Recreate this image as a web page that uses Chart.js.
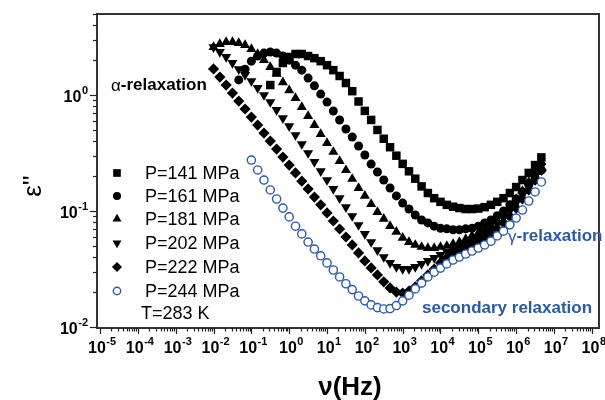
<!DOCTYPE html>
<html>
<head>
<meta charset="utf-8">
<script src="https://cdn.jsdelivr.net/npm/chart.js@4.4.0/dist/chart.umd.min.js"></script>
<style>
  html, body { margin: 0; padding: 0; background: #fff; }
  #wrap { width: 605px; height: 400px; }
</style>
</head>
<body>
<div id="wrap"><canvas id="chart" width="605" height="400"></canvas></div>
<script>
// frequency grid (Hz), 6 points per decade
const freq = [
  0.01, 0.01468, 0.02154, 0.03162, 0.04642, 0.06813,
  0.1, 0.1468, 0.2154, 0.3162, 0.4642, 0.6813,
  1, 1.468, 2.154, 3.162, 4.642, 6.813,
  10, 14.68, 21.54, 31.62, 46.42, 68.13,
  100, 146.8, 215.4, 316.2, 464.2, 681.3,
  1000, 1468, 2154, 3162, 4642, 6813,
  1e4, 1.468e4, 2.154e4, 3.162e4, 4.642e4, 6.813e4,
  1e5, 1.468e5, 2.154e5, 3.162e5, 4.642e5, 6.813e5,
  1e6, 1.468e6, 2.154e6, 3.162e6, 4.642e6
];

// eps'' for each pressure (null = not measured)
const p141 = [
  null, null, null, null, null, null,
  null, null, null, 1.22, 1.58, 1.89,
  2.13, 2.26, 2.26, 2.17, 2.08, 1.96,
  1.81, 1.64, 1.46, 1.27, 1.08, 0.88,
  0.73, 0.61, 0.50, 0.42, 0.355, 0.30,
  0.255, 0.22, 0.19, 0.163, 0.143, 0.129,
  0.12, 0.113, 0.109, 0.106, 0.104, 0.104,
  0.105, 0.108, 0.113, 0.12, 0.129, 0.143,
  0.161, 0.185, 0.213, 0.249, 0.29
];
const p161 = [
  null, null, null, null, 1.35, 1.67,
  1.96, 2.17, 2.30, 2.35, 2.30, 2.17,
  2.0, 1.81, 1.64, 1.40, 1.20, 1.02,
  0.87, 0.728, 0.609, 0.51, 0.435, 0.364,
  0.304, 0.254, 0.217, 0.185, 0.158, 0.135,
  0.117, 0.104, 0.0925, 0.0836, 0.079, 0.074,
  0.071, 0.0702, 0.069, 0.069, 0.0702, 0.071,
  0.074, 0.079, 0.0836, 0.091, 0.10, 0.113,
  0.127, 0.146, 0.168, 0.193, 0.225
];
const p181 = [
  2.59, 2.75, 2.86, 2.86, 2.81, 2.70,
  2.49, 2.26, 2.0, 1.74, 1.52, 1.29,
  1.10, 0.942, 0.788, 0.659, 0.551, 0.461,
  0.386, 0.323, 0.27, 0.225, 0.189, 0.158,
  0.135, 0.115, 0.098, 0.0855, 0.0742, 0.0661,
  0.0588, 0.054, 0.051, 0.049, 0.048, 0.048,
  0.049, 0.05, 0.052, 0.054, 0.0574, 0.061,
  0.0646, 0.07, 0.0757, 0.0836, 0.094, 0.108,
  0.127, 0.149, 0.178, 0.217, 0.265
];
const p202 = [
  2.59, 2.35, 2.13, 1.89, 1.67, 1.49,
  1.32, 1.15, 1.0, 0.87, 0.743, 0.633,
  0.54, 0.452, 0.378, 0.316, 0.265, 0.221,
  0.185, 0.155, 0.129, 0.108, 0.0905, 0.0757,
  0.0635, 0.054, 0.046, 0.0401, 0.0357, 0.033,
  0.0317, 0.0317, 0.033, 0.035, 0.0371, 0.0394,
  0.0418, 0.0444, 0.047, 0.05, 0.053, 0.056,
  0.0597, 0.0646, 0.07, 0.0773, 0.087, 0.1,
  0.117, 0.138, 0.165, 0.2, 0.244
];
const p222 = [
  1.68, 1.43, 1.22, 1.04, 0.888, 0.758,
  0.646, 0.551, 0.47, 0.401, 0.342, 0.292,
  0.249, 0.213, 0.181, 0.155, 0.132, 0.113,
  0.0963, 0.082, 0.07, 0.0597, 0.051, 0.0435,
  0.0371, 0.0323, 0.0281, 0.0245, 0.0217, 0.02,
  0.0196, 0.0204, 0.0222, 0.025, 0.0281, 0.0316,
  0.0357, 0.0394, 0.0426, 0.0463, 0.0491, 0.0521,
  0.055, 0.0587, 0.0635, 0.07, 0.079, 0.09,
  0.106, 0.127, 0.152, 0.185, 0.225
];
const p244 = [
  null, null, null, null, null, null,
  0.275, 0.226, 0.185, 0.152, 0.127, 0.106,
  0.089, 0.074, 0.0635, 0.054, 0.047, 0.0411,
  0.0357, 0.031, 0.027, 0.0236, 0.021, 0.0185,
  0.0168, 0.0155, 0.0147, 0.0143, 0.0144, 0.0153,
  0.0168, 0.0188, 0.0213, 0.0239, 0.027, 0.0297,
  0.0322, 0.035, 0.0378, 0.0401, 0.0426, 0.0452,
  0.048, 0.051, 0.055, 0.061, 0.067, 0.076,
  0.087, 0.102, 0.122, 0.146, 0.178
];

const seriesLabels = ["P=141 MPa", "P=161 MPa", "P=181 MPa", "P=202 MPa", "P=222 MPa", "P=244 MPa"];
const xTickExps = [-5, -4, -3, -2, -1, 0, 1, 2, 3, 4, 5, 6, 7, 8];
const yTickExps = [-2, -1, 0];

const BLUE = "#2c59a6";
const FONT = "'Liberation Sans', Arial, sans-serif";

function toPoints(vals) {
  return freq.map((f, i) => ({ x: f, y: vals[i] })).filter(p => p.y !== null);
}

const styles = [
  { pointStyle: "rect", radius: 6, rotation: 0, fill: "#000", stroke: "#000", bw: 0 },
  { pointStyle: "circle", radius: 4.5, rotation: 0, fill: "#000", stroke: "#000", bw: 0 },
  { pointStyle: "triangle", radius: 5.8, rotation: 0, fill: "#000", stroke: "#000", bw: 0 },
  { pointStyle: "triangle", radius: 5.8, rotation: 180, fill: "#000", stroke: "#000", bw: 0 },
  { pointStyle: "rectRot", radius: 5.6, rotation: 0, fill: "#000", stroke: "#000", bw: 0 },
  { pointStyle: "circle", radius: 4.1, rotation: 0, fill: "#fff", stroke: BLUE, bw: 1.4 }
];
const allSeries = [p141, p161, p181, p202, p222, p244];

const datasets = allSeries.map((vals, i) => ({
  label: seriesLabels[i],
  data: toPoints(vals),
  showLine: false,
  pointStyle: styles[i].pointStyle,
  pointRadius: styles[i].radius,
  pointRotation: styles[i].rotation,
  pointBackgroundColor: styles[i].fill,
  pointBorderColor: styles[i].stroke,
  pointBorderWidth: styles[i].bw,
  order: i === 5 ? 0 : i + 1
}));

// draws "10" with a superscript exponent
function drawPow(ctx, x, y, exp, align) {
  ctx.font = "bold 16px " + FONT;
  const wBase = ctx.measureText("10").width;
  ctx.font = "bold 11px " + FONT;
  const wExp = ctx.measureText(String(exp)).width;
  const total = wBase + wExp + 0.5;
  const left = align === "right" ? x - total : x - total / 2;
  ctx.textAlign = "left";
  ctx.textBaseline = "alphabetic";
  ctx.font = "bold 16px " + FONT;
  ctx.fillText("10", left, y + 6);
  ctx.font = "bold 11px " + FONT;
  ctx.fillText(String(exp), left + wBase + 0.5, y - 2);
}

const decor = {
  id: "decor",
  afterDraw(chart) {
    const ctx = chart.ctx;
    const a = chart.chartArea;
    const xs = chart.scales.x;
    const ys = chart.scales.y;
    ctx.save();

    // frame
    ctx.strokeStyle = "#333";
    ctx.lineWidth = 2;
    ctx.strokeRect(a.left, a.top, a.right - a.left, a.bottom - a.top);

    // x ticks
    ctx.lineWidth = 1.2;
    ctx.strokeStyle = "#222";
    ctx.fillStyle = "#000";
    xTickExps.forEach(e => {
      for (let m = 1; m <= 9; m++) {
        const v = m * Math.pow(10, e);
        if (v < xs.min || v > xs.max) continue;
        const px = Math.round(xs.getPixelForValue(v)) + 0.5;
        const len = m === 1 ? 6 : 3.5;
        ctx.beginPath();
        ctx.moveTo(px, a.bottom);
        ctx.lineTo(px, a.bottom + len);
        ctx.stroke();
      }
      drawPow(ctx, xs.getPixelForValue(Math.pow(10, e)) + 2, 347, e, "center");
    });

    // y ticks
    yTickExps.forEach(e => {
      for (let m = 1; m <= 9; m++) {
        const v = m * Math.pow(10, e);
        if (v < ys.min || v > ys.max) continue;
        const py = Math.round(ys.getPixelForValue(v)) + 0.5;
        const len = m === 1 ? 7 : 4;
        ctx.beginPath();
        ctx.moveTo(a.left, py);
        ctx.lineTo(a.left - len, py);
        ctx.stroke();
      }
      drawPow(ctx, 88, ys.getPixelForValue(Math.pow(10, e)) + 1, e, "right");
    });

    // axis titles
    ctx.fillStyle = "#000";
    ctx.font = "bold 26px " + FONT;
    ctx.textAlign = "center";
    ctx.textBaseline = "middle";
    ctx.fillText("\u03bd(Hz)", 350, 388);

    ctx.save();
    ctx.translate(34, 186);
    ctx.rotate(-Math.PI / 2);
    ctx.font = "26px " + FONT;
    ctx.fillText("\u03b5''", 0, 0);
    ctx.restore();

    // legend
    const rows = [173, 196, 219, 243, 267, 291];
    rows.forEach((ry, i) => {
      const s = styles[i];
      ctx.fillStyle = s.fill;
      ctx.strokeStyle = s.stroke;
      ctx.lineWidth = s.bw;
      Chart.helpers.drawPoint(ctx, {
        pointStyle: s.pointStyle, radius: s.radius * 0.9, rotation: s.rotation, borderWidth: s.bw
      }, 117, ry);
      ctx.fillStyle = "#000";
      ctx.font = "18px " + FONT;
      ctx.textAlign = "left";
      ctx.textBaseline = "middle";
      ctx.fillText(seriesLabels[i], 145, ry + 1);
    });
    ctx.fillText("T=283 K", 141, 314);

    // annotations
    ctx.textAlign = "left";
    ctx.textBaseline = "middle";
    ctx.font = "17px " + FONT;
    ctx.fillText("\u03b1", 111, 86);
    let w = ctx.measureText("\u03b1").width;
    ctx.font = "bold 17px " + FONT;
    ctx.fillText("-relaxation", 111 + w, 85);

    ctx.fillStyle = BLUE;
    ctx.font = "17px " + FONT;
    ctx.fillText("\u03b3", 508, 237);
    w = ctx.measureText("\u03b3").width;
    ctx.font = "bold 17px " + FONT;
    ctx.fillText("-relaxation", 508 + w, 236);
    ctx.fillText("secondary relaxation", 422, 308);

    ctx.restore();
  }
};

new Chart(document.getElementById("chart"), {
  type: "scatter",
  data: { datasets: datasets },
  options: {
    responsive: false,
    animation: false,
    events: [],
    layout: { padding: { top: 14, right: 1, left: 0, bottom: 0 } },
    plugins: { legend: { display: false }, tooltip: { enabled: false } },
    scales: {
      x: {
        type: "logarithmic",
        min: 8.3e-6,
        max: 1.55e8,
        grid: { display: false },
        border: { display: false },
        ticks: { display: false },
        afterFit: s => { s.height = 72; }
      },
      y: {
        type: "logarithmic",
        min: 0.0098,
        max: 5,
        grid: { display: false },
        border: { display: false },
        ticks: { display: false },
        afterFit: s => { s.width = 97; }
      }
    }
  },
  plugins: [decor]
});
</script>
</body>
</html>
